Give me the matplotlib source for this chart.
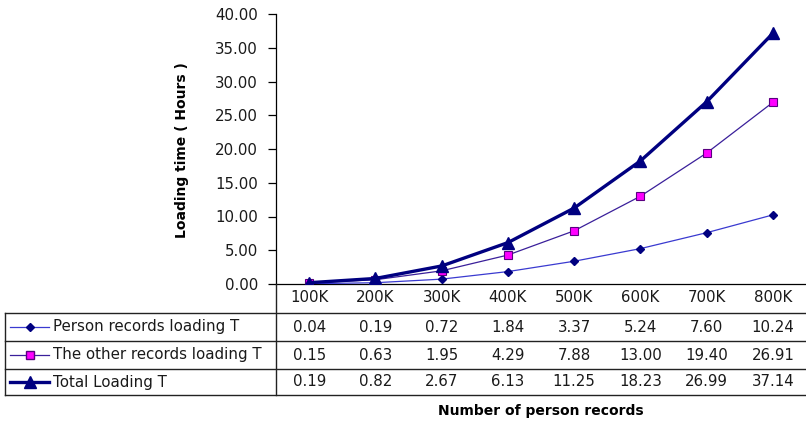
import matplotlib
matplotlib.use("Agg")
import matplotlib.pyplot as plt
from matplotlib.lines import Line2D
from matplotlib.transforms import blended_transform_factory

categories = ["100K", "200K", "300K", "400K", "500K", "600K", "700K", "800K"]
series_names = ["Person records loading T", "The other records loading T", "Total Loading T"]
person = [0.04, 0.19, 0.72, 1.84, 3.37, 5.24, 7.60, 10.24]
other = [0.15, 0.63, 1.95, 4.29, 7.88, 13.00, 19.40, 26.91]
total = [0.19, 0.82, 2.67, 6.13, 11.25, 18.23, 26.99, 37.14]
y_ticks = [0, 5, 10, 15, 20, 25, 30, 35, 40]

plt.rcParams['font.family'] = ['DejaVu Sans']

W, H = 806, 425
fig = plt.figure(figsize=(W / 100, H / 100), dpi=100)

def fx(px):
    return px / W

def fy(py):
    return 1 - py / H

FS = 10.8
TXT = "#1a1a1a"

ax_l, ax_r, ax_t, ax_b = 276, 806, 14, 284
ax = fig.add_axes([fx(ax_l), fy(ax_b), fx(ax_r - ax_l), (ax_b - ax_t) / H])

styles = [
    dict(color="#3a3ad0", lw=0.9, marker="D", ms=4.2, mfc="#000080", mec="#000080"),
    dict(color="#3a1f9a", lw=0.9, marker="s", ms=5.2, mfc="#ff00ff", mec="#5a0080", mew=0.8),
    dict(color="#000080", lw=2.4, marker="^", ms=9, mfc="#000080", mec="#000080"),
]
xs = list(range(len(categories)))
for vals, st in zip([person, other, total], styles):
    ax.plot(xs, vals, **st, zorder=3)

ax.set_xlim(-0.5, len(categories) - 0.5)
ax.set_ylim(0, 40)
ax.set_yticks(y_ticks)
ax.set_yticklabels([f"{v:.2f}" for v in y_ticks], fontsize=FS, color=TXT)
ax.tick_params(axis="y", direction="out", length=6, width=0.9, pad=7)
ax.set_xticks([])
for s in ["top", "right"]:
    ax.spines[s].set_visible(False)
ax.spines["left"].set_linewidth(0.9)
ax.spines["bottom"].set_linewidth(0.9)
ax.patch.set_alpha(0)

fig.text(fx(182), fy(150), "Loading time ( Hours )", rotation=90, ha="center", va="center",
         fontsize=10, fontweight="bold")

# Data table
tr = blended_transform_factory(ax.transData, fig.transFigure)
row_lines = [312.7, 341, 368.5, 395]
for y in row_lines:
    fig.add_artist(Line2D([fx(5), fx(806)], [fy(y), fy(y)], color="#222222", lw=1.0))
fig.add_artist(Line2D([fx(5), fx(5)], [fy(312.7), fy(395)], color="#222222", lw=1.0))
fig.add_artist(Line2D([fx(276), fx(276)], [fy(284), fy(395)], color="#222222", lw=1.0))

for i, c in enumerate(categories):
    fig.text(i, fy(298), c, transform=tr, ha="center", va="center", fontsize=FS, color=TXT)

row_centers = [327, 355, 382]
for r, (vals, name, st) in enumerate(zip([person, other, total], series_names, styles)):
    yc = fy(row_centers[r])
    for i, v in enumerate(vals):
        fig.text(i, yc, f"{v:.2f}", transform=tr, ha="center", va="center", fontsize=FS, color=TXT)
    fig.add_artist(Line2D([fx(10), fx(49)], [yc, yc], color=st["color"], lw=st["lw"]))
    mk = {k: st[k] for k in ["marker", "ms", "mfc", "mec"]}
    fig.add_artist(Line2D([fx(29.5)], [yc], linestyle="none", **mk))
    fig.text(fx(53), yc, name, ha="left", va="center", fontsize=FS, color=TXT)

fig.text((ax_l + ax_r) / 2 / W, fy(411), "Number of person records", ha="center", va="center",
         fontsize=10, fontweight="bold")

fig.savefig("out.png", dpi=100)
